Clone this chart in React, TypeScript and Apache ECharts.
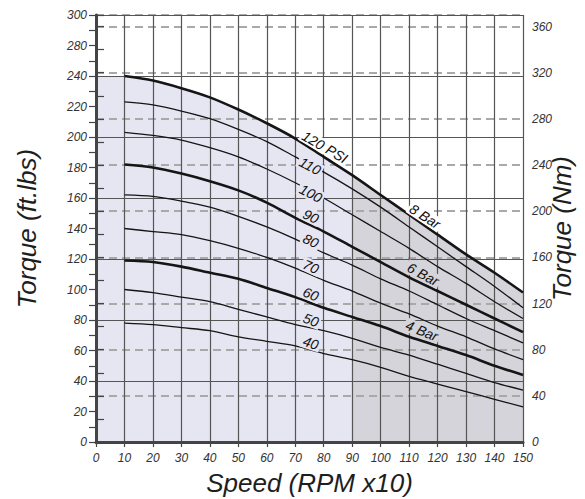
import React, { useEffect, useRef } from "react";
import * as echarts from "echarts";

// Speed (RPM x10)
const speeds = [10, 20, 30, 40, 50, 60, 70, 80, 90, 100, 110, 120, 130, 140, 150];
// Torque (ft.lbs) per pressure curve
const psi120 = [240, 237, 232, 226, 218, 209, 199, 187, 175, 162, 149, 136, 123, 111, 98];
const psi110 = [223, 221, 217, 212, 205, 197, 187, 177, 166, 154, 141, 128, 115, 102, 88];
const psi100 = [203, 201, 198, 193, 187, 179, 170, 160, 149, 138, 127, 115, 104, 92, 81];
const psi90 = [182, 180, 176, 171, 165, 157, 147, 138, 128, 118, 108, 99, 90, 81, 72];
const psi80 = [162, 161, 158, 154, 148, 141, 133, 124, 116, 107, 99, 90, 81, 73, 65];
const psi70 = [140, 138, 136, 132, 127, 121, 114, 106, 99, 91, 84, 76, 69, 61, 54];
const psi60 = [119, 118, 115, 111, 107, 101, 95, 88, 82, 76, 69, 63, 57, 50, 44];
const psi50 = [100, 98, 95, 92, 87, 82, 77, 73, 68, 62, 57, 51, 45, 39, 34];
const psi40 = [78, 77, 75, 73, 69, 66, 63, 58, 54, 49, 43, 38, 33, 28, 23];

const curves = [psi120, psi110, psi100, psi90, psi80, psi70, psi60, psi50, psi40];
const thickCurves = [true, false, false, true, false, false, true, false, false];

// Left axis tick labels (as printed on the chart, ticks every 20)
const leftTickLabels = ["0", "20", "40", "60", "80", "100", "120", "140", "160", "180", "200", "220", "240", "280", "300"];
// Right axis (Nm) tick labels
const rightTickLabels = ["0", "40", "80", "120", "160", "200", "240", "280", "320", "360"];

// Curve labels
const labelTexts = ["120 PSI", "110", "100", "90", "80", "70", "60", "50", "40", "8 Bar", "6 Bar", "4 Bar"];
const labelSpeeds = [80.4, 75.2, 75.5, 75.5, 75.5, 75.5, 75.5, 75.5, 75.5, 115.6, 114.9, 114.5];
const labelTorques = [193.4, 181, 163, 148, 132, 115, 97, 80, 65, 148, 110, 73];
const labelAngles = [30, 28, 27, 26, 25, 24, 22, 20, 18, 33, 28, 22];
const labelZones = ["white", "lav", "lav", "lav", "lav", "lav", "lav", "lav", "lav", "white", "gray", "gray"];

const LAV = "#e6e5f2";
const GRAY = "#d5d4da";
const FONT = "'Liberation Sans', Arial, Helvetica, sans-serif";

export default function App() {
  const ref = useRef<HTMLDivElement>(null);
  useEffect(() => {
    if (!ref.current) return;
    const chart = echarts.init(ref.current, undefined, { renderer: "svg" });

    const pts = (arr: number[]) => speeds.map((s, i) => [s, arr[i]]);
    const p120 = pts(psi120);
    const lavPart = p120.filter((p) => p[0] <= 90);
    const grayPart = p120.filter((p) => p[0] >= 90);

    const series: any[] = [
      {
        type: "line",
        data: [[0, psi120[0]], [speeds[0], psi120[0]]],
        symbol: "none",
        lineStyle: { width: 0 },
        areaStyle: { color: LAV, opacity: 1 },
        z: 0,
        silent: true,
      },
      {
        type: "line",
        data: lavPart,
        symbol: "none",
        smooth: 0.3,
        lineStyle: { width: 0 },
        areaStyle: { color: LAV, opacity: 1 },
        z: 0,
        silent: true,
      },
      {
        type: "line",
        data: grayPart,
        symbol: "none",
        smooth: 0.3,
        lineStyle: { width: 0 },
        areaStyle: { color: GRAY, opacity: 1 },
        z: 0,
        silent: true,
      },
    ];

    curves.forEach((c, i) => {
      series.push({
        type: "line",
        data: pts(c),
        symbol: "none",
        smooth: 0.3,
        lineStyle: { color: "#151515", width: thickCurves[i] ? 2.6 : 1.3 },
        z: 3,
        silent: true,
      });
    });

    const bgFor = (z: string) => (z === "white" ? "#ffffff" : z === "lav" ? LAV : GRAY);
    series.push({
      type: "scatter",
      symbolSize: 2,
      itemStyle: { color: "rgba(0,0,0,0)" },
      z: 5,
      silent: true,
      data: labelTexts.map((t, i) => ({
        value: [labelSpeeds[i], labelTorques[i]],
        label: {
          show: true,
          position: "inside",
          formatter: t,
          rotate: -labelAngles[i],
          fontSize: 14,
          fontStyle: "italic",
          fontFamily: FONT,
          color: "#111",
          opacity: 1,
          textBorderWidth: 0,
          backgroundColor: bgFor(labelZones[i]),
          padding: [0, 2],
        },
      })),
    });

    const tickLabelStyle = {
      fontStyle: "italic",
      fontSize: 12,
      color: "#333",
      fontFamily: FONT,
    };
    const nameStyle = {
      fontStyle: "italic",
      fontSize: 26,
      color: "#1e1e1e",
      fontFamily: FONT,
    };

    chart.setOption({
      animation: false,
      grid: { left: 96, top: 15, width: 427, height: 427, outerBoundsMode: "none", containLabel: false },
      xAxis: [
        {
          type: "value",
          min: 0,
          max: 150,
          interval: 10,
          position: "bottom",
          z: 1,
          axisLine: { show: true, lineStyle: { color: "#444", width: 3 } },
          axisTick: { show: true, length: 5, lineStyle: { color: "#444", width: 1.2 } },
          axisLabel: { ...tickLabelStyle, margin: 10 },
          splitLine: { show: true, lineStyle: { color: "#555", width: 1.2 } },
          name: "Speed (RPM x10)",
          nameLocation: "middle",
          nameGap: 28,
          nameTextStyle: nameStyle,
        },
        {
          type: "value",
          min: 0,
          max: 150,
          position: "top",
          z: 1,
          axisLine: { show: true, lineStyle: { color: "#444", width: 2 } },
          axisTick: { show: false },
          axisLabel: { show: false },
          splitLine: { show: false },
        },
      ],
      yAxis: [
        {
          type: "value",
          min: 0,
          max: 280,
          interval: 20,
          position: "left",
          z: 1,
          axisLine: { show: true, lineStyle: { color: "#444", width: 3 } },
          axisTick: { show: true, length: 7, lineStyle: { color: "#444", width: 1.2 } },
          minorTick: { show: true, splitNumber: 2, length: 7, lineStyle: { color: "#444", width: 1.2 } },
          axisLabel: {
            ...tickLabelStyle,
            margin: 9,
            formatter: (v: number) => leftTickLabels[Math.round(v / 20)] ?? "",
          },
          splitLine: { show: false },
          name: "Torque (ft.lbs)",
          nameLocation: "middle",
          nameGap: 56,
          nameRotate: 90,
          nameTextStyle: nameStyle,
        },
        {
          type: "value",
          min: 0,
          max: 370,
          interval: 40,
          position: "right",
          z: 1,
          axisLine: { show: true, lineStyle: { color: "#444", width: 2 } },
          axisTick: { show: true, length: 8, lineStyle: { color: "#444", width: 1.2 } },
          minorTick: { show: true, splitNumber: 2, length: 8, lineStyle: { color: "#444", width: 1.2 } },
          axisLabel: {
            ...tickLabelStyle,
            margin: 9,
            formatter: (v: number) => (v % 40 === 0 ? rightTickLabels[v / 40] ?? "" : ""),
          },
          splitLine: { show: true, lineStyle: { color: "#a9a9a9", width: 2.2, type: [8, 5] } },
          name: "Torque (Nm)",
          nameLocation: "middle",
          nameGap: 26,
          nameMoveOverlap: false,
          nameRotate: 90,
          nameTextStyle: nameStyle,
        },
        {
          type: "value",
          min: 0,
          max: 280,
          interval: 40,
          position: "left",
          z: 1,
          axisLine: { show: false },
          axisTick: { show: false },
          axisLabel: { show: false },
          splitLine: { show: true, lineStyle: { color: "#555", width: 1.2 } },
        },
      ],
      series,
    });

    return () => chart.dispose();
  }, []);

  return (
    <div
      ref={ref}
      style={{ position: "absolute", left: 0, top: 0, width: 585, height: 499, background: "#fff" }}
    />
  );
}
